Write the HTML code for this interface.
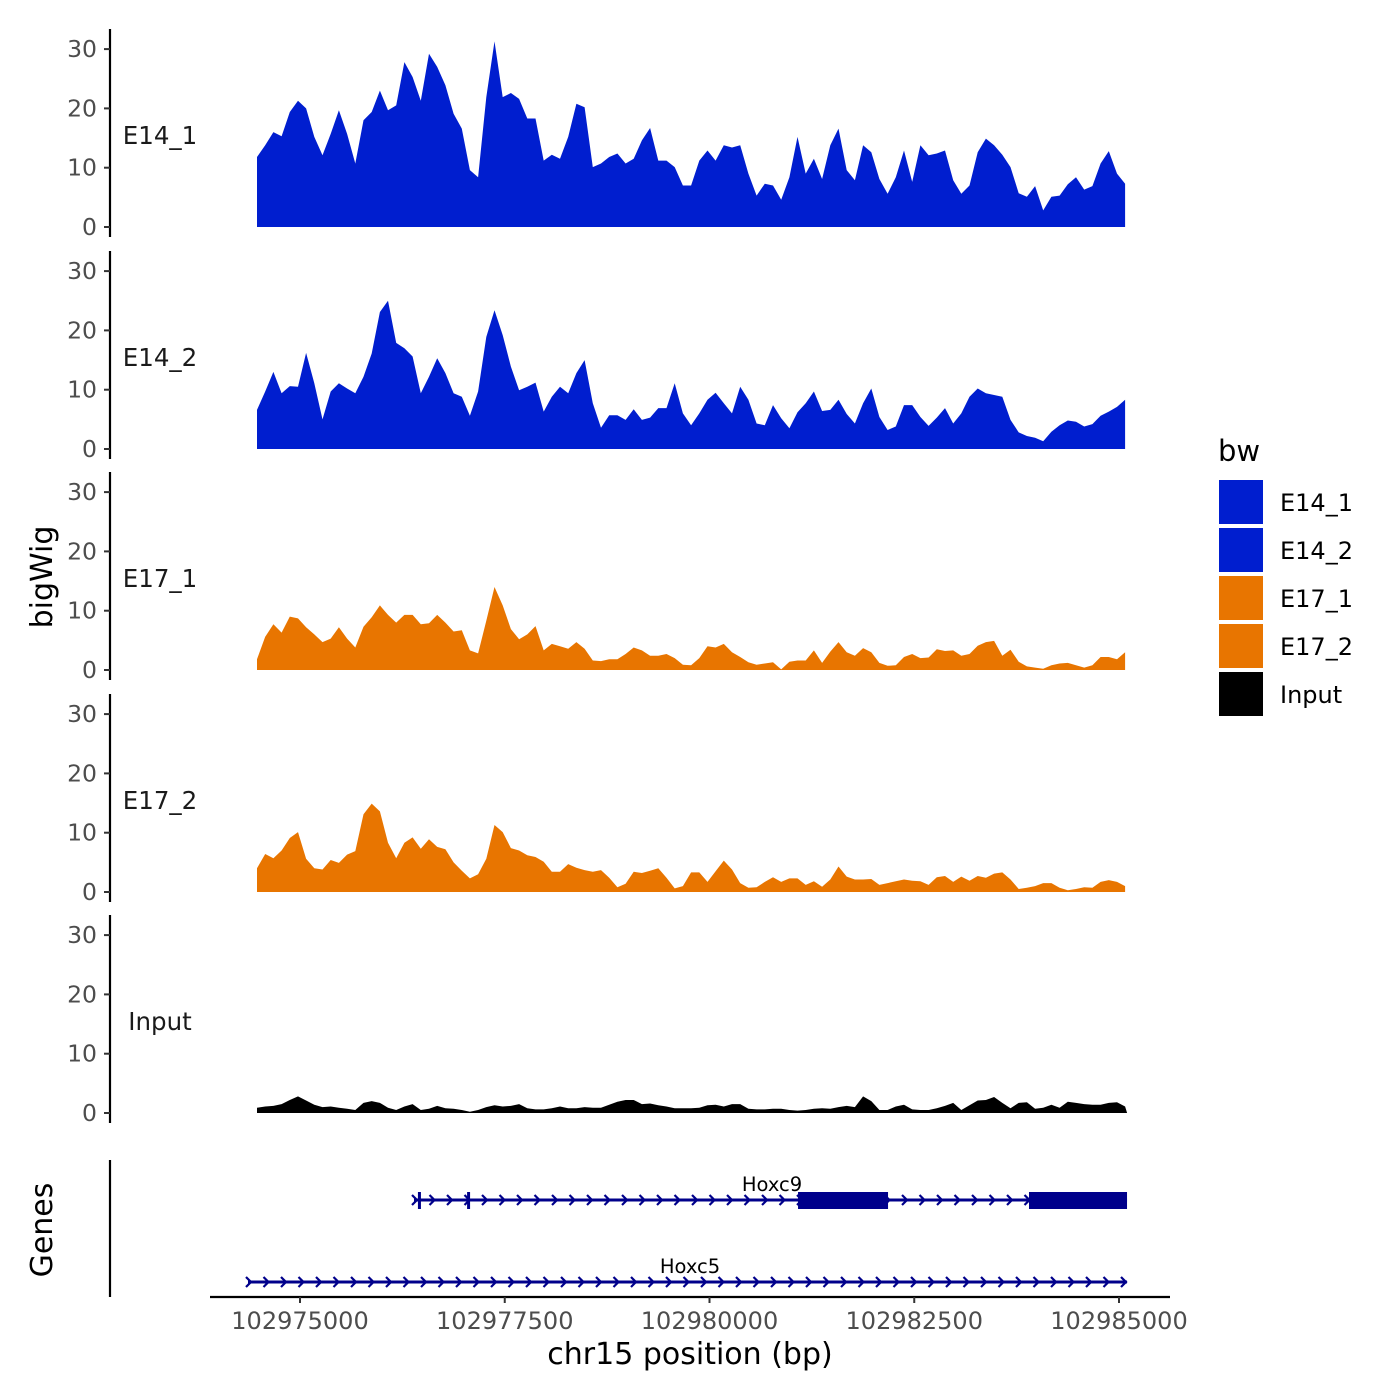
<!DOCTYPE html>
<html><head><meta charset="utf-8"><style>
html,body{margin:0;padding:0;background:#fff}
svg{display:block;font-family:"DejaVu Sans","Liberation Sans",sans-serif}
</style></head><body>
<svg id="chart" width="1400" height="1400" viewBox="0 0 1400 1400">
<g id="panels"></g>
<g id="genes"></g>
<g id="legend"></g>
<text x="52" y="577" transform="rotate(-90 52 577)" text-anchor="middle" font-size="30" fill="#000">bigWig</text>
<text x="52" y="1230" transform="rotate(-90 52 1230)" text-anchor="middle" font-size="30" fill="#000">Genes</text>
<text x="690" y="1364" text-anchor="middle" font-size="30" fill="#000">chr15 position (bp)</text>
</svg>
<script>
const trackNames = ["E14_1","E14_2","E17_1","E17_2","Input"];
const trackColors = ["#001ECF","#001ECF","#E87500","#E87500","#000000"];
const startBp = 102974475;
const stepBp = 100;
const yTicks = [0,10,20,30];
const xTicks = [102975000,102977500,102980000,102982500,102985000];
const xTickLabels = ["102975000","102977500","102980000","102982500","102985000"];
const e14_1 = [11.8,13.8,16.0,15.3,19.4,21.3,20,15.2,12.1,15.7,19.7,15.7,10.7,18,19.4,23,19.7,20.5,27.8,25.3,21.3,29.2,27,23.9,19.1,16.6,9.6,8.4,21.9,31.3,21.9,22.6,21.6,18.3,18.3,11.2,12.2,11.5,15.2,20.8,20.2,10.1,10.7,11.8,12.4,10.7,11.5,14.6,16.7,11.2,11.2,10.1,7,7,11.2,12.9,11.2,13.8,13.4,13.8,9,5.3,7.3,7,4.6,8.4,15.2,9,11.5,8.1,13.8,16.6,9.6,7.9,13.8,12.6,8.1,5.6,8.4,12.9,7.6,13.8,12.1,12.4,12.9,7.9,5.6,7,12.6,14.9,13.8,12.2,10.1,5.7,5.1,6.9,2.8,5.1,5.3,7.2,8.4,6.3,6.9,10.7,12.8,9,7.3];
const e14_2 = [6.6,9.7,13,9.4,10.6,10.5,16.2,11.1,5,9.7,11.1,10.2,9.4,12.2,16.1,23.1,25,17.9,17,15.6,9.4,12.2,15.3,12.8,9.4,8.8,5.6,9.7,18.9,23.4,19.2,13.9,9.9,10.5,11.2,6.3,8.8,10.5,9.4,12.8,15,7.7,3.6,5.7,5.7,4.9,6.7,4.9,5.3,6.9,6.9,11.1,6,4,6,8.3,9.5,7.7,6,10.5,8.3,4.3,4,7.4,5.2,3.5,6.2,7.7,9.7,6.4,6.6,8.3,5.9,4.3,7.7,10.2,5.4,3.2,3.8,7.4,7.4,5.4,3.9,5.3,6.9,4.3,6,8.8,10.2,9.4,9.1,8.8,4.9,2.8,2.2,1.9,1.3,2.9,4,4.8,4.6,3.8,4.2,5.6,6.3,7.1,8.3];
const e17_1 = [1.8,5.6,7.7,6.3,9,8.7,7.2,6,4.7,5.3,7.2,5.3,3.8,7.3,8.9,10.9,9.3,8,9.3,9.3,7.7,7.9,9.3,8,6.5,6.7,3.3,2.8,8.3,14,10.9,6.9,5.2,6,7.4,3.3,4.4,4,3.6,4.7,3.6,1.6,1.5,1.8,1.8,2.7,3.8,3.3,2.4,2.4,2.7,2,0.9,0.8,2,4,3.8,4.4,3,2.2,1.3,0.9,1.1,1.3,0.1,1.4,1.6,1.6,3.3,1.2,3.1,4.7,3,2.4,3.7,3,1.2,0.7,0.8,2.2,2.7,2,2.1,3.5,3.2,3.3,2.4,2.7,4.1,4.7,4.9,2.4,3.4,1.4,0.6,0.4,0.2,0.8,1.1,1.2,0.8,0.4,0.8,2.2,2.2,1.8,3];
const e17_2 = [4,6.4,5.7,7,9.1,10.1,5.6,4,3.8,5.4,4.9,6.3,6.9,13.1,14.9,13.6,8.3,5.7,8.3,9.2,7.3,8.9,7.6,7.2,5,3.6,2.3,3,5.6,11.3,10.1,7.4,7,6.2,5.9,5.1,3.4,3.4,4.7,4.1,3.7,3.4,3.7,2.4,0.8,1.4,3.4,3.2,3.6,4,2.4,0.6,1,3.3,3.3,1.7,3.5,5.3,3.8,1.5,0.7,0.8,1.7,2.5,1.7,2.3,2.3,1.2,1.8,0.9,2.1,4.3,2.6,2.1,2.1,2.2,1.2,1.5,1.8,2.1,1.9,1.8,1.2,2.5,2.7,1.7,2.6,1.9,2.7,2.4,3.1,3.3,2.1,0.5,0.7,1,1.5,1.5,0.7,0.3,0.5,0.8,0.7,1.7,2,1.7,1];
const input = [0.9,1.1,1.2,1.5,2.2,2.8,2.1,1.4,1,1.1,0.9,0.7,0.5,1.7,2,1.7,0.9,0.5,1.1,1.5,0.5,0.7,1.2,0.8,0.7,0.5,0.2,0.5,1,1.3,1.1,1.2,1.5,0.8,0.6,0.6,0.8,1.1,0.8,0.8,1,0.9,0.9,1.4,1.9,2.2,2.2,1.5,1.6,1.3,1.1,0.8,0.8,0.8,0.9,1.3,1.4,1.1,1.5,1.5,0.7,0.6,0.6,0.7,0.7,0.5,0.4,0.5,0.7,0.8,0.7,1,1.2,1,2.8,2,0.5,0.5,1.1,1.4,0.6,0.5,0.5,0.8,1.2,1.7,0.5,1.3,2.1,2.2,2.7,1.7,0.8,1.7,1.8,0.7,0.9,1.4,0.9,1.9,1.7,1.5,1.4,1.4,1.7,1.8,1.1];
const series = [e14_1,e14_2,e17_1,e17_2,input];
const geneNames = ["Hoxc9","Hoxc5"];
const geneStarts = [102976392,102974365];
const geneEnds = [102985098,102985098];
const hoxc9ExonStarts = [102976440,102977040,102981081,102983901];
const hoxc9ExonEnds = [102976470,102977070,102982180,102985098];

const NS="http://www.w3.org/2000/svg";
function X(bp){return 300+(bp-102975000)*0.0819;}
const baselines=[227,449,670,892,1113];
const pxPerUnit=5.93;
function mk(tag,attrs,parent){const e=document.createElementNS(NS,tag);for(const k in attrs)e.setAttribute(k,attrs[k]);parent.appendChild(e);return e;}
const panels=document.getElementById('panels');
series.forEach((vals,i)=>{
  const b=baselines[i];
  const Y=v=>b-v*pxPerUnit;
  const g=mk('g',{},panels);
  
  
  const ax=mk('line',{x1:110,x2:110,y1:b-198,y2:b+10,stroke:'#000','stroke-width':2.2},g);
  
  
  yTicks.forEach(t=>{
    const tk=mk('line',{x1:104,x2:110,y1:Y(t),y2:Y(t),stroke:'#333','stroke-width':2},g);
    
    
    const tl=mk('text',{x:97,y:Y(t)+8,'text-anchor':'end','font-size':23.5,fill:'#4d4d4d'},g);
    tl.textContent=t;
    
    
  });
  let d='M'+X(startBp).toFixed(1)+','+b;
  vals.forEach((v,k)=>{d+=' L'+X(startBp+k*stepBp).toFixed(1)+','+Y(v).toFixed(1);});
  const endX = i===4 ? X(startBp+(vals.length-1)*stepBp)+2 : X(startBp+(vals.length-1)*stepBp);
  d+=' L'+endX.toFixed(1)+','+b+' Z';
  const p=mk('path',{d:d,fill:trackColors[i]},g);
  
  
  const lab=mk('text',{x:160,y:b-83,'text-anchor':'middle','font-size':24.5,fill:'#1a1a1a'},g);
  lab.textContent=trackNames[i];
  
  
});
const gg=document.getElementById('genes');
const gax=mk('line',{x1:110,x2:110,y1:1160,y2:1297,stroke:'#000','stroke-width':2.2},gg);


const xax=mk('line',{x1:210,x2:1170,y1:1297,y2:1297,stroke:'#000','stroke-width':2.2},gg);


xTicks.forEach((t,k)=>{
  const tk=mk('line',{x1:X(t),x2:X(t),y1:1297,y2:1303,stroke:'#333','stroke-width':2},gg);
  
  
  const tl=mk('text',{x:X(t),y:1329,'text-anchor':'middle','font-size':24,fill:'#4d4d4d'},gg);
  tl.textContent=xTickLabels[k];
  
  
});
const geneY=[1200,1282];
const geneCol='#00008B';
geneNames.forEach((n,i)=>{
  const y=geneY[i],x1=X(geneStarts[i]),x2=X(geneEnds[i]);
  const g=mk('g',{},gg);
  
  
  mk('line',{x1:x1,x2:x2,y1:y,y2:y,stroke:geneCol,'stroke-width':3},g);
  for(let x=x1;x<=x2;x+=17.5){
    mk('path',{d:`M${x-2},${y-5} L${x+3},${y} L${x-2},${y+5}`,fill:'none',stroke:geneCol,'stroke-width':2.2},g);
  }
  const t=mk('text',{x:i===0?772:690,y:y-9,'text-anchor':'middle','font-size':19.5,fill:'#000'},g);
  t.textContent=n;
  
  
});
hoxc9ExonStarts.forEach((s,k)=>{
  const a=X(s),b2=X(hoxc9ExonEnds[k]);
  const r=mk('rect',{x:a,y:1192,width:Math.max(b2-a,3),height:17,fill:geneCol},gg);
  
  
});
const lg=document.getElementById('legend');
const lt=mk('text',{x:1218,y:461,'font-size':29,fill:'#000'},lg);
lt.textContent='bw';


trackNames.forEach((n,i)=>{
  const y=480+i*48;
  const r=mk('rect',{x:1219,y:y,width:44,height:44,fill:trackColors[i]},lg);
  
  
  const t=mk('text',{x:1280,y:y+31,'font-size':24,fill:'#000'},lg);
  t.textContent=n;
  
  
});
</script>
</body></html>
